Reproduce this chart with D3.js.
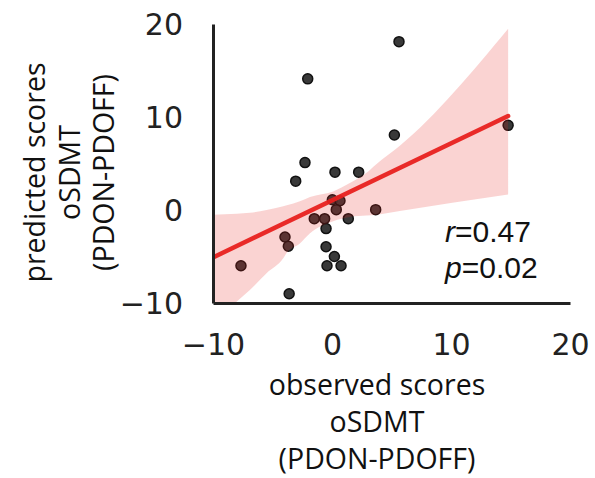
<!DOCTYPE html>
<html>
<head>
<meta charset="utf-8">
<script src="https://cdn.jsdelivr.net/npm/d3@7"></script>
<style>
  body { margin: 0; background: #fff; }
  svg { display: block; }
</style>
</head>
<body>
<svg id="chart" width="595" height="478"></svg>
<script>
// ---- data ----
const observed  = [-7.65, -3.6, -3.95, -3.67, -3.05, -2.27, -2.04, -1.49, -0.62, -0.5, -0.5, 0.2, -0.42, 0.76, 0.03, 0.67, 0.36, 0.25, 1.37, 2.24, 3.67, 5.24, 5.63, 14.8];
const predicted = [-6.0, -9.0, -2.9, -3.9, 3.1, 5.1, 14.1, -0.93, -0.93, -2.0, -3.95, -5.0, -6.0, -6.0, 1.1, 1.0, 0.04, 4.07, -0.93, 4.07, 0.04, 8.06, 18.1, 9.1];
const fitX = [-10, 14.8];
const fitY = [-5.1, 10.1];
const ciX     = [-10, -8.0, -6.9, -5.5, -4.1, -3.8, -2.7, -1.85, 0.1, 1.5, 2.9, 3.7, 5.7, 14.8];
const ciUpper = [-0.5, -0.4, -0.3, 0.0, 0.4, 0.5, 0.94, 1.4, 2.0, 2.9, 4.0, 4.9, 6.9, 19.5];
const ciLower = [-12.3, -9.85, -8.6, -6.8, -5.2, -4.6, -3.6, -2.5, -1.2, -0.75, -0.6, -0.5, -0.1, 1.66];
const xTicks = [-10, 0, 10, 20];
const yTicks = [-10, 0, 10, 20];
const xTitle = ["observed scores", "oSDMT", "(PDON-PDOFF)"];
const yTitle = ["predicted scores", "oSDMT", "(PDON-PDOFF)"];
const statR = "0.47";
const statP = "0.02";

// ---- drawing ----
const svg = d3.select("#chart");
const x = d3.scaleLinear().domain([-10, 20]).range([213, 570]);
const y = d3.scaleLinear().domain([-10, 20]).range([303, 24]);
const axisColor = "#222";

svg.append("defs").append("clipPath").attr("id", "plotclip")
  .append("rect").attr("x", x(-10)).attr("y", y(20))
  .attr("width", x(20) - x(-10)).attr("height", y(-10) - y(20));

const plot = svg.append("g").attr("clip-path", "url(#plotclip)");

// scatter points
plot.selectAll("circle.pt").data(observed.map((d, i) => [d, predicted[i]]))
  .join("circle").attr("class", "pt")
  .attr("cx", d => x(d[0])).attr("cy", d => y(d[1])).attr("r", 5)
  .attr("fill", "#2e2e2e").attr("stroke", "#111").attr("stroke-width", 1.5)
  .attr("fill-opacity", 0.95);

// confidence band
const band = d3.area()
  .x((d, i) => x(ciX[i]))
  .y0((d, i) => y(ciLower[i]))
  .y1((d, i) => y(ciUpper[i]))
  .curve(d3.curveMonotoneX);
plot.append("path").datum(ciX).attr("d", band)
  .attr("fill", "#e8211f").attr("fill-opacity", 0.2).attr("stroke", "none");

// regression line
const line = d3.line().x((d, i) => x(fitX[i])).y((d, i) => y(fitY[i]));
plot.append("path").datum(fitX).attr("d", line)
  .attr("fill", "none").attr("stroke", "#e8211f").attr("stroke-width", 4.5)
  .attr("stroke-linecap", "round").attr("stroke-opacity", 0.95);

// axes
const fmt = d => d < 0 ? "\u2212" + Math.abs(d) : String(d);
const xAxis = svg.append("g").attr("transform", `translate(0,${y(-10)})`)
  .call(d3.axisBottom(x).tickValues(xTicks).tickFormat(fmt).tickSize(0).tickPadding(28));
const yAxis = svg.append("g").attr("transform", `translate(${x(-10)},0)`)
  .call(d3.axisLeft(y).tickValues(yTicks).tickFormat(fmt).tickSize(0).tickPadding(30));
[xAxis, yAxis].forEach(a => {
  a.select(".domain").attr("stroke", axisColor).attr("stroke-width", 3);
  a.selectAll("text").attr("font-family", "DejaVu Sans").attr("font-size", 30)
    .attr("fill", axisColor);
});
xAxis.selectAll("text").attr("dy", 0).attr("y", 52);
yAxis.selectAll("text").attr("dy", "0.36em");

// axis titles
const titleFont = "'Open Sans', sans-serif";
svg.append("g").selectAll("text").data(xTitle).join("text")
  .attr("x", 377).attr("y", (d, i) => 395 + i * 37)
  .attr("text-anchor", "middle").attr("font-family", titleFont)
  .attr("font-size", 28.5).attr("fill", "#111").text(d => d);

svg.append("g").selectAll("text").data(yTitle).join("text")
  .attr("transform", (d, i) => `translate(${45 + i * 34.5},172.5) rotate(-90)`)
  .attr("text-anchor", "middle").attr("font-family", titleFont)
  .attr("font-size", 28.5).attr("fill", "#111").text(d => d);

// stats annotation
const stat = svg.append("g").attr("font-family", "'Liberation Sans', Arial, sans-serif")
  .attr("font-size", 30).attr("fill", "#111");
const t1 = stat.append("text").attr("x", 445).attr("y", 242);
t1.append("tspan").attr("font-style", "italic").text("r");
t1.append("tspan").text("=" + statR);
const t2 = stat.append("text").attr("x", 445).attr("y", 278);
t2.append("tspan").attr("font-style", "italic").text("p");
t2.append("tspan").text("=" + statP);
</script>
</body>
</html>
